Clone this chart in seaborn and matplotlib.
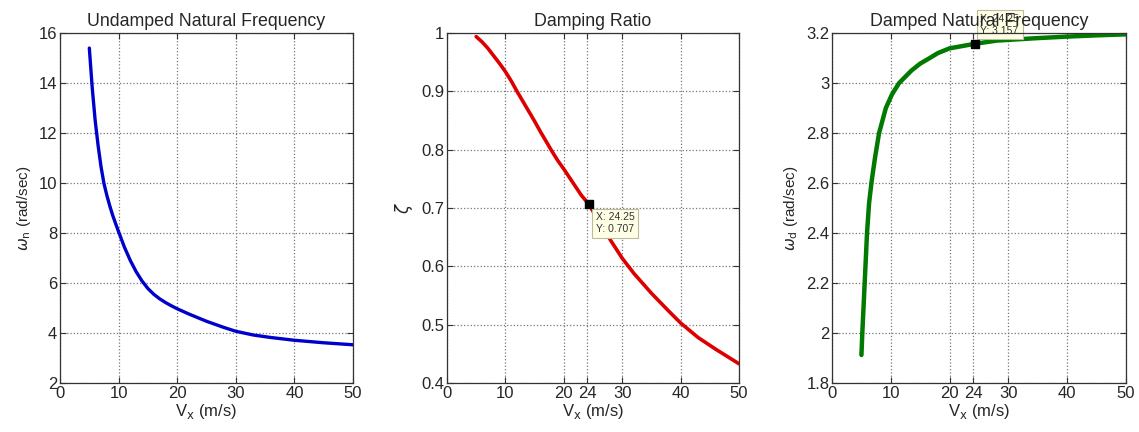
import numpy as np
import pandas as pd
import seaborn as sns
import matplotlib
matplotlib.use("Agg")
import matplotlib.pyplot as plt
from matplotlib.ticker import FuncFormatter

# valori
vx_wn = [5, 5.5, 6, 6.5, 7, 7.5, 8, 8.5, 9, 9.5, 10, 11, 12, 13, 14, 15, 16,
         17, 18, 19, 20, 22, 25, 28, 30, 33, 36, 40, 45, 50]
wn = [15.4, 13.8, 12.5, 11.5, 10.65, 9.98, 9.5, 9.08, 8.7, 8.37, 8.05, 7.43,
      6.9, 6.45, 6.08, 5.78, 5.55, 5.37, 5.22, 5.09, 4.97, 4.76, 4.47, 4.22,
      4.07, 3.92, 3.82, 3.71, 3.61, 3.53]

vx_zeta = [5, 6, 7, 8, 9, 10, 11, 12, 13, 14, 15, 16, 17, 18, 19, 20, 21, 22,
           23, 24.25, 26, 28, 30, 32, 35, 38, 40, 43, 46, 50]
zeta = [0.994, 0.985, 0.974, 0.961, 0.948, 0.934, 0.918, 0.900, 0.883, 0.866,
        0.849, 0.831, 0.814, 0.797, 0.781, 0.767, 0.752, 0.737, 0.722, 0.707,
        0.678, 0.645, 0.614, 0.588, 0.554, 0.523, 0.503, 0.478, 0.458, 0.433]

vx_wd = [5, 5.15, 5.55, 5.95, 6.3, 6.75, 7.3, 8, 9.15, 10.2, 11.4, 13.5, 15,
         16.6, 18, 20, 24.25, 28, 35, 40, 45, 50]
wd = [1.912, 2.0, 2.2, 2.4, 2.52, 2.61, 2.70, 2.8, 2.9, 2.955, 3.0, 3.05,
      3.078, 3.1, 3.12, 3.139, 3.157, 3.17, 3.18, 3.186, 3.191, 3.195]

tip_x = 24.25
tip_zeta = 0.707
tip_wd = 3.157

sns.set_theme(style="ticks")
plt.rcParams['font.family'] = ['Liberation Sans', 'DejaVu Sans']
plt.rcParams['mathtext.fontset'] = 'dejavusans'

fig = plt.figure(figsize=(11.39, 4.32), dpi=100)
ax1 = fig.add_axes([0.0527, 0.1134, 0.2572, 0.810])
ax2 = fig.add_axes([0.3924, 0.1134, 0.2564, 0.810])
ax3 = fig.add_axes([0.7305, 0.1134, 0.2581, 0.810])

fmt = FuncFormatter(lambda v, p: ('%.2f' % v).rstrip('0').rstrip('.'))


def style_axes(ax, xticks, yticks, ylim):
    ax.set_xlim(0, 50)
    ax.set_ylim(*ylim)
    ax.set_xticks(xticks)
    ax.set_yticks(yticks)
    ax.yaxis.set_major_formatter(fmt)
    ax.tick_params(direction='in', top=True, right=True, labelsize=12,
                   length=4, width=0.8, color='#333333', pad=2)
    ax.grid(True, linestyle=':', color='#777777', linewidth=0.9)
    for s in ax.spines.values():
        s.set_color('#333333')
        s.set_linewidth(0.9)
    ax.set_xlabel(r"V$_{\rm x}$ (m/s)", fontsize=12, labelpad=1)


df1 = pd.DataFrame({"vx": vx_wn, "val": wn})
sns.lineplot(data=df1, x="vx", y="val", ax=ax1, color='#0000CC', linewidth=2.4)
style_axes(ax1, [0, 10, 20, 30, 40, 50], np.arange(2, 17, 2), (2, 16))
ax1.set_ylabel(r"$\omega_{\rm n}$ (rad/sec)", fontsize=11, labelpad=4)
ax1.set_title("Undamped Natural Frequency", fontsize=12.8, pad=5)

df2 = pd.DataFrame({"vx": vx_zeta, "val": zeta})
sns.lineplot(data=df2, x="vx", y="val", ax=ax2, color='#DD0000', linewidth=2.6)
style_axes(ax2, [0, 10, 20, 24, 30, 40, 50], np.arange(0.4, 1.01, 0.1), (0.4, 1.0))
ax2.set_ylabel(r"$\zeta$", fontsize=12, labelpad=4)
ax2.set_title("Damping Ratio", fontsize=12.8, pad=5)
ax2.plot([tip_x], [tip_zeta], marker='s', color='black', markersize=6, zorder=5)
ax2.annotate("X: %.2f\nY: %.3f" % (tip_x, tip_zeta), xy=(tip_x, tip_zeta),
             xytext=(5, -6), textcoords='offset points', ha='left', va='top',
             fontsize=7.5, color='#333333', zorder=6,
             bbox=dict(boxstyle='square,pad=0.35', fc='#FFFFE6', ec='#BBBBA0', lw=0.8))

df3 = pd.DataFrame({"vx": vx_wd, "val": wd})
sns.lineplot(data=df3, x="vx", y="val", ax=ax3, color='#007A00', linewidth=3.2)
style_axes(ax3, [0, 10, 20, 24, 30, 40, 50], np.arange(1.8, 3.21, 0.2), (1.8, 3.2))
ax3.set_ylabel(r"$\omega_{\rm d}$ (rad/sec)", fontsize=11, labelpad=4)
ax3.plot([tip_x], [tip_wd], marker='s', color='black', markersize=6, zorder=5,
         clip_on=False)
ax3.annotate("X: %.2f\nY: %.3f" % (tip_x, tip_wd), xy=(tip_x, tip_wd),
             xytext=(4, 6), textcoords='offset points', ha='left', va='bottom',
             fontsize=7.5, color='#333333', zorder=2.5, annotation_clip=False,
             bbox=dict(boxstyle='square,pad=0.35', fc='#FFFFE6', ec='#BBBBA0', lw=0.8))
t = ax3.set_title("Damped Natural Frequency", fontsize=12.8, pad=5)
t.set_zorder(10)

fig.savefig("out.png", dpi=100)
